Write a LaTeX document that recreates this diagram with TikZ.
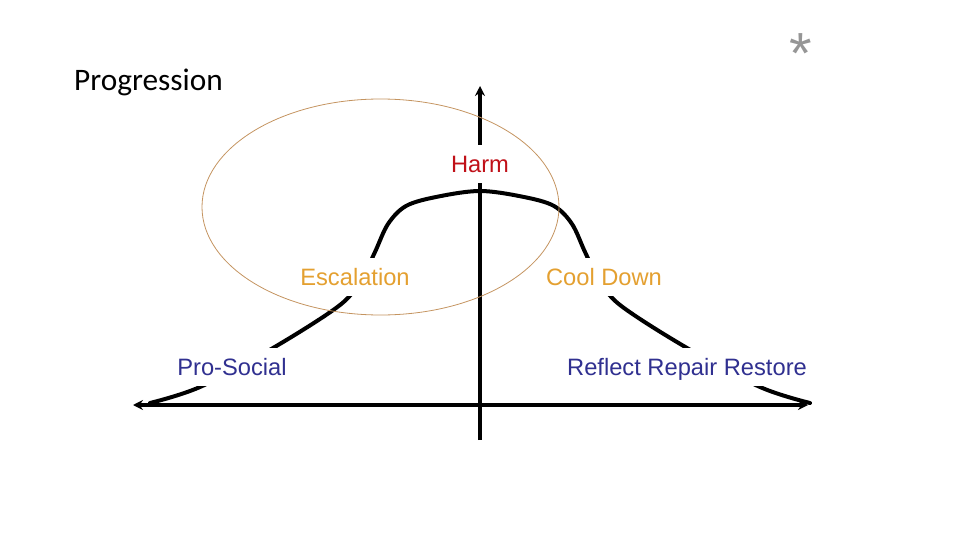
\documentclass[tikz,border=0pt]{standalone}
\usepackage{fontspec}
\setmainfont{Liberation Sans}
\newfontfamily\progfont{Carlito}
\usetikzlibrary{arrows.meta}
\definecolor{harmred}{RGB}{192,16,24}
\definecolor{escorange}{RGB}{228,160,48}
\definecolor{socblue}{RGB}{48,48,144}
\definecolor{ellbrown}{RGB}{196,148,96}
\definecolor{stargray}{RGB}{150,150,150}
\tikzset{
  axis/.style={line width=4pt, -{Stealth[length=10pt,width=10pt]}},
  bell/.style={line width=4pt, line cap=round},
  lbl/.style={fill=white, font=\fontsize{23.7}{25}\selectfont, inner xsep=3pt, inner ysep=0pt,
    text height=20pt, text depth=3pt, minimum height=38pt, anchor=center},
  ring/.style={draw=ellbrown, line width=0.8pt}
}
\begin{document}
\begin{tikzpicture}[x=1pt,y=-1pt]
\useasboundingbox (0,0) rectangle (960,540);
% axes
\coordinate (vbot) at (480,440);
\coordinate (vtop) at (480,86);
\coordinate (hleft) at (133,405);
\coordinate (hright) at (808,405);
\coordinate (origin) at (480,405);
\draw[axis] (vbot) -- (vtop);
\draw[axis] (origin) -- (hleft);
\draw[axis] (origin) -- (hright);
% bell curve
\draw[bell] plot[smooth, tension=0.55] coordinates {
  (150,403) (200,387) (273,348) (340,305) (362,278) (375,252) (388,224) (406,206) (436,197) (480,191)
  (524,197) (554,206) (572,224) (585,252) (598,278) (620,305) (687,348) (760,387) (810,403)};
% labels
\node[lbl, text=harmred] (harm) at (480,164) {Harm};
\node[lbl, text=escorange] (esc) at (355,277) {Escalation};
\node[lbl, text=escorange] (cool) at (604,277) {Cool Down};
\node[lbl, text=socblue] (pro) at (232,367) {Pro-Social};
\node[lbl, text=socblue] (rrr) at (687,367) {Reflect Repair Restore};
% ellipse
\draw[ring] (380.5,207) ellipse [x radius=178.5, y radius=108];
% title and star
\node[font=\progfont\fontsize{31.3}{33}\selectfont, anchor=base west, inner sep=0pt] (prog) at (74,91) {Progression};
\node[font=\fontsize{58}{58}\selectfont, text=stargray, inner sep=0pt] (star) at (801,54) {*};
\end{tikzpicture}
\end{document}
